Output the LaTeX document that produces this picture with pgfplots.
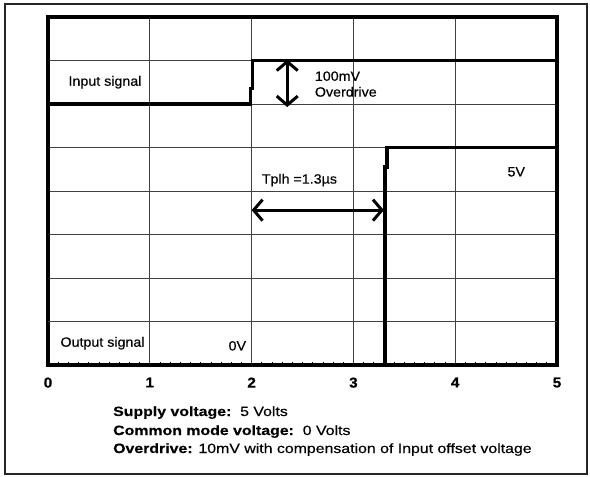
\documentclass[border=0pt]{standalone}
\usepackage{pgfplots}
\pgfplotsset{compat=1.18}
\usetikzlibrary{arrows.meta}
\usepackage{fontspec}
\setmainfont{Liberation Sans}
\newfontfamily\lab[FakeStretch=1.06,FakeBold=0.4]{Liberation Sans}
\newfontfamily\note[FakeStretch=1.18,FakeBold=0.4]{Liberation Sans}
\newcommand{\fs}{\lab\fontsize{13.5}{14}\selectfont}
\newcommand{\fb}{\note\fontsize{13.5}{14}\selectfont}
\begin{document}
\begin{tikzpicture}
\begin{axis}[
  scale only axis, width=509bp, height=348bp,
  xmin=0, xmax=5, ymin=0, ymax=8,
  xtick={0,1,2,3,4,5}, ytick={0,1,...,8}, yticklabels={},
  minor x tick num=9,
  xtick pos=bottom, tick align=inside,
  major tick length=0pt, minor tick length=3.5bp,
  x tick style={black, line width=0.7pt},
  ytick style={draw=none},
  grid=major,
  major grid style={black!75, line width=0.8pt},
  axis line style={black, line width=3.2pt},
  extra y ticks={1}, extra y tick labels={},
  extra y tick style={grid style={black, line width=1.5pt}},
  /pgf/number format/assume math mode=true,
  x tick label style={font=\bfseries\lab\fontsize{14.5}{14}\selectfont, yshift=-9bp},
  clip=false,
]
\addplot[black, line width=3.2pt] coordinates {(0,6) (1.99,6) (1.99,6.35) (2.005,6.35) (2.005,7) (5,7)};
\addplot[black, line width=3.2pt] coordinates {(0,0) (3.31,0) (3.31,4.55) (3.33,4.55) (3.33,5) (5,5)};
\coordinate (O) at (rel axis cs:0,0);
% annotations
\draw[black, line width=3pt, {Straight Barb[length=9bp,width=21bp]}-{Straight Barb[length=9bp,width=21bp]}]
  (axis cs:2.35,7.02) -- (axis cs:2.35,5.93);
\draw[black, line width=3pt, {Straight Barb[length=9bp,width=21bp]}-{Straight Barb[length=9bp,width=21bp]}]
  (axis cs:2.0,3.56) -- (axis cs:3.3,3.56);
\node[anchor=west, font=\fs, inner sep=0pt] at (axis cs:2.62,6.64) {100mV};
\node[anchor=west, font=\fs, inner sep=0pt] at (axis cs:2.62,6.28) {Overdrive};
\node[anchor=center, font=\fs, inner sep=0pt] at (axis cs:2.47,4.25) {Tplh =1.3µs};
\node[anchor=center, font=\fs, inner sep=0pt] at (axis cs:4.6,4.44) {5V};
\node[anchor=east, font=\fs, inner sep=0pt] at (axis cs:0.92,6.5) {Input signal};
\node[anchor=east, font=\fs, inner sep=0pt] at (axis cs:0.95,0.5) {Output signal};
\node[anchor=center, font=\fs, inner sep=0pt] at (axis cs:1.86,0.44) {0V};
\end{axis}
\path ([shift={(-48bp,-112bp)}]O) rectangle ([shift={(542bp,365bp)}]O);
\draw[black!85, line width=1.5pt] ([shift={(-43bp,-109bp)}]O) rectangle ([shift={(539bp,361bp)}]O);
\node[anchor=base west, font=\fb, inner sep=0pt] at ([shift={(65bp,-51bp)}]O) {\textbf{Supply voltage:}\ \ 5 Volts};
\node[anchor=base west, font=\fb, inner sep=0pt] at ([shift={(65bp,-70bp)}]O) {\textbf{Common mode voltage:}\ \ 0 Volts};
\node[anchor=base west, font=\fb, inner sep=0pt] at ([shift={(65bp,-88bp)}]O) {\textbf{Overdrive:} 10mV with compensation of Input offset voltage};
\end{tikzpicture}
\end{document}
